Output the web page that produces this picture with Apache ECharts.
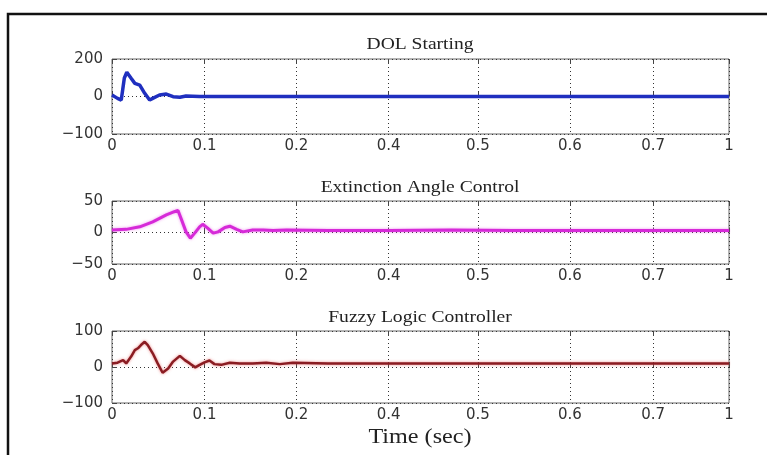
<!DOCTYPE html>
<html>
<head>
<meta charset="utf-8">
<script src="https://cdn.jsdelivr.net/npm/echarts@6/dist/echarts.min.js"></script>
<style>
html, body { margin: 0; padding: 0; background: #fff; }
#chart { width: 767px; height: 455px; }
</style>
</head>
<body>
<div id="chart"></div>
<script>
// time axis ticks (positions along the axis and the text printed under them)
var xTickPos = [0, 0.150, 0.299, 0.4485, 0.593, 0.742, 0.877, 1];
var xTickLabels = ["0", "0.1", "0.2", "0.4", "0.5", "0.6", "0.7", "1"];

// y ticks for each panel
var yTicks1 = [-200, 0, 200];
var yTickLabels1 = ["\u2212100", "0", "200"];
var yTicks2 = [-50, 0, 50];
var yTickLabels2 = ["\u221250", "0", "50"];
var yTicks3 = [-100, 0, 100];
var yTickLabels3 = ["\u2212100", "0", "100"];

var titles = ["DOL Starting", "Extinction Angle Control", "Fuzzy Logic Controller"];

// DOL starting
var dolTime = [0, 0.009, 0.015, 0.020, 0.024, 0.031, 0.037, 0.045, 0.053, 0.061, 0.066, 0.077, 0.088, 0.099, 0.110, 0.120, 0.142, 0.3, 0.5, 0.7, 1];
var dolVal = [8, -10, -19, 99, 129, 97, 70, 61, 17, -19, -10, 8, 13, -1, -4, 3, 0, 0, 0, 0, 0];

// extinction angle control
var extTime = [0, 0.023, 0.045, 0.066, 0.088, 0.101, 0.107, 0.112, 0.120, 0.127, 0.134, 0.142, 0.147, 0.155, 0.164, 0.172, 0.183, 0.191, 0.202, 0.212, 0.228, 0.245, 0.261, 0.283, 0.35, 0.45, 0.55, 0.65, 0.75, 0.85, 1];
var extVal = [4, 5, 9, 17, 28, 33, 35, 22, 1, -9, -1, 9, 13, 7, -1, 1, 8, 10, 5, 1, 4, 4, 3, 4, 3, 3, 4, 3, 3, 3, 3];

// fuzzy logic controller
var flcTime = [0, 0.009, 0.018, 0.023, 0.031, 0.037, 0.042, 0.047, 0.053, 0.058, 0.066, 0.074, 0.082, 0.091, 0.099, 0.110, 0.118, 0.126, 0.135, 0.142, 0.150, 0.158, 0.166, 0.177, 0.191, 0.207, 0.228, 0.250, 0.272, 0.293, 0.35, 0.45, 0.55, 0.65, 0.75, 0.85, 1];
var flcVal = [10, 12, 19, 10, 29, 47, 52, 61, 70, 61, 38, 10, -16, -4, 15, 31, 19, 10, -1, 6, 13, 18, 8, 6, 12, 10, 10, 12, 8, 12, 10, 10, 10, 10, 10, 10, 10];

function zip(t, v) {
  var out = [];
  for (var i = 0; i < t.length; i++) out.push([t[i], v[i]]);
  return out;
}

function labelFrom(values, labels) {
  return function (v) {
    var i = values.indexOf(v);
    return i >= 0 ? labels[i] : "";
  };
}

var tickFont = { color: "#333", fontFamily: "DejaVu Sans", fontSize: 15 };

function bottomX(g) {
  return {
    type: "value", gridIndex: g, min: 0, max: 1, position: "bottom",
    axisLine: { show: false },
    axisTick: { show: true, inside: true, length: 5, customValues: xTickPos, lineStyle: { color: "#444" } },
    axisLabel: Object.assign({ customValues: xTickPos, formatter: labelFrom(xTickPos, xTickLabels), margin: 5 }, tickFont),
    splitLine: { show: true, lineStyle: { type: [1, 3], color: "#333", width: 1 } }
  };
}

function topX(g) {
  return {
    type: "value", gridIndex: g, min: 0, max: 1, position: "top",
    axisLine: { show: false },
    axisTick: { show: true, inside: true, length: 5, customValues: xTickPos, lineStyle: { color: "#444" } },
    axisLabel: { show: false },
    splitLine: { show: false }
  };
}

function leftY(g, ticks, labels) {
  return {
    type: "value", gridIndex: g, min: ticks[0], max: ticks[ticks.length - 1],
    axisLine: { show: false },
    axisTick: { show: true, inside: true, length: 5, customValues: ticks, lineStyle: { color: "#444" } },
    axisLabel: Object.assign({ customValues: ticks, formatter: labelFrom(ticks, labels), margin: 9 }, tickFont),
    splitLine: { show: true, lineStyle: { type: [1, 3], color: "#333", width: 1 } }
  };
}

function titleText(txt, y, size) {
  return {
    type: "text", x: 420, y: y, scaleX: 1.15, silent: true,
    style: { text: txt, fill: "#222", font: size + 'px "Liberation Serif"', align: "center", verticalAlign: "middle" }
  };
}

var chart = echarts.init(document.getElementById("chart"));

var option = {
  animation: false,
  backgroundColor: "#fff",
  grid: [
    { left: 112, top: 59, width: 617, height: 75, show: true, borderColor: "#666", borderWidth: 1 },
    { left: 112, top: 201, width: 617, height: 63, show: true, borderColor: "#666", borderWidth: 1 },
    { left: 112, top: 331, width: 617, height: 72, show: true, borderColor: "#666", borderWidth: 1 }
  ],
  xAxis: [bottomX(0), bottomX(1), bottomX(2), topX(0), topX(1), topX(2)],
  yAxis: [
    leftY(0, yTicks1, yTickLabels1),
    leftY(1, yTicks2, yTickLabels2),
    leftY(2, yTicks3, yTickLabels3)
  ],
  graphic: [
    { type: "rect", silent: true, shape: { x: 8, y: 14, width: 820, height: 520 }, style: { fill: "none", stroke: "#111", lineWidth: 2.5 } },
    titleText(titles[0], 45, 17),
    titleText(titles[1], 188, 17),
    titleText(titles[2], 318, 17),
    titleText("Time (sec)", 437, 21)
  ],
  series: [
    {
      type: "line", xAxisIndex: 0, yAxisIndex: 0, showSymbol: false,
      data: zip(dolTime, dolVal),
      lineStyle: { color: "#1f2fbf", width: 3.5 }
    },
    {
      type: "line", xAxisIndex: 1, yAxisIndex: 1, showSymbol: false,
      data: zip(extTime, extVal),
      lineStyle: { color: "#d62ad8", width: 3, shadowColor: "rgba(230,80,230,0.6)", shadowBlur: 3 }
    },
    {
      type: "line", xAxisIndex: 2, yAxisIndex: 2, showSymbol: false,
      data: zip(flcTime, flcVal),
      lineStyle: { color: "#8a1c22", width: 2.5, shadowColor: "rgba(230,90,90,0.7)", shadowBlur: 3 }
    }
  ]
};

chart.setOption(option);
</script>
</body>
</html>
